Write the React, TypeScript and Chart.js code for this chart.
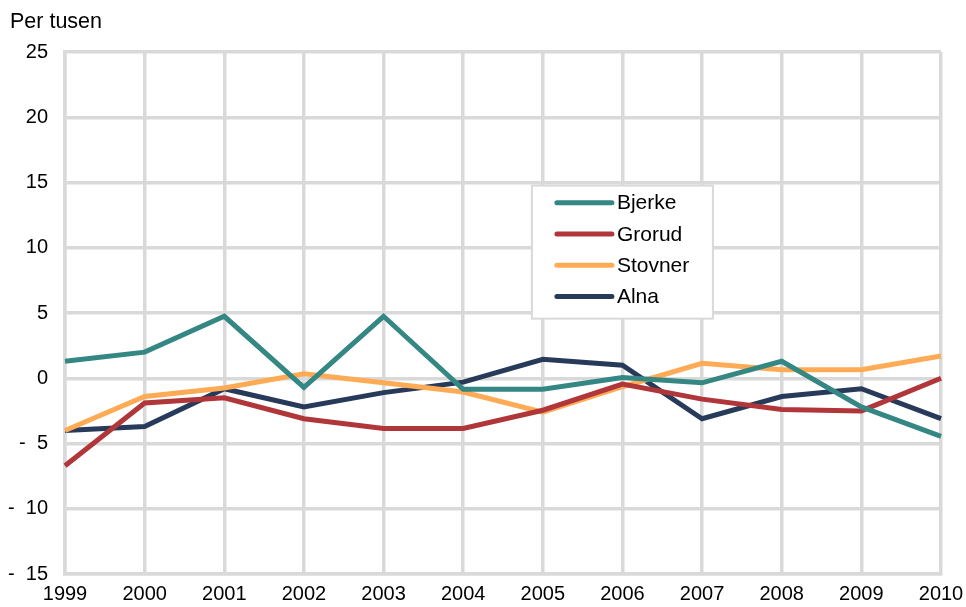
import React, { useEffect, useRef } from "react";
import { Chart, registerables } from "chart.js";

Chart.register(...registerables);

const years = ["1999", "2000", "2001", "2002", "2003", "2004", "2005", "2006", "2007", "2008", "2009", "2010"];
const bjerke = [1.3, 2.0, 4.75, -0.7, 4.75, -0.85, -0.85, 0.05, -0.35, 1.3, -2.2, -4.45];
const grorud = [-6.7, -1.9, -1.5, -3.1, -3.85, -3.85, -2.45, -0.45, -1.6, -2.4, -2.5, 0.0];
const stovner = [-4.0, -1.4, -0.75, 0.35, -0.35, -1.05, -2.6, -0.65, 1.15, 0.65, 0.65, 1.7];
const alna = [-4.0, -3.7, -0.8, -2.2, -1.1, -0.3, 1.45, 1.0, -3.1, -1.4, -0.8, -3.1];
const seriesNames = ["Bjerke", "Grorud", "Stovner", "Alna"];
const seriesColors = ["#358783", "#b0363a", "#ffaa55", "#283a5a"];
const yTitle = "Per tusen";

const FONT = "'Liberation Sans', Arial, sans-serif";
const FS = 20;

const legendPlugin = {
  id: "insideLegend",
  afterDraw(chart: any) {
    const { ctx, chartArea } = chart;
    const w = chartArea.right - chartArea.left;
    const h = chartArea.bottom - chartArea.top;
    const bx = chartArea.left + w * 0.533;
    const by = chartArea.top + h * 0.256;
    const bw = 181;
    const bh = 133;
    ctx.save();
    ctx.fillStyle = "#ffffff";
    ctx.fillRect(bx, by, bw, bh);
    ctx.strokeStyle = "#d9d9d9";
    ctx.lineWidth = 2;
    ctx.strokeRect(bx, by, bw, bh);
    ctx.font = `21px ${FONT}`;
    ctx.textBaseline = "middle";
    ctx.textAlign = "left";
    chart.data.datasets.forEach((ds: any, i: number) => {
      const cy = by + 17 + i * 31.3;
      ctx.strokeStyle = ds.borderColor;
      ctx.lineWidth = 5;
      ctx.lineCap = "round";
      ctx.beginPath();
      ctx.moveTo(bx + 25, cy);
      ctx.lineTo(bx + 80, cy);
      ctx.stroke();
      ctx.fillStyle = "#000000";
      ctx.fillText(ds.label, bx + 85, cy + 1);
    });
    ctx.restore();
  },
};

const titlePlugin = {
  id: "yTitleTop",
  afterDraw(chart: any) {
    const { ctx } = chart;
    ctx.save();
    ctx.font = `21.5px ${FONT}`;
    ctx.fillStyle = "#000000";
    ctx.textBaseline = "middle";
    ctx.textAlign = "left";
    ctx.fillText(yTitle, 10, 22);
    ctx.restore();
  },
};

export default function App() {
  const ref = useRef<HTMLCanvasElement | null>(null);
  useEffect(() => {
    document.body.style.margin = "0";
    const data = [bjerke, grorud, stovner, alna];
    const chart = new Chart(ref.current as HTMLCanvasElement, {
      type: "line",
      data: {
        labels: years,
        datasets: seriesNames.map((n, i) => ({
          label: n,
          data: data[i],
          borderColor: seriesColors[i],
          backgroundColor: seriesColors[i],
          borderWidth: 5,
          pointRadius: 0,
          tension: 0,
          fill: false,
        })),
      },
      options: {
        animation: false,
        responsive: false,
        maintainAspectRatio: false,
        layout: { padding: { top: 52, right: 25, left: 0, bottom: 0 } },
        plugins: {
          legend: { display: false },
          tooltip: { enabled: false },
        },
        scales: {
          x: {
            offset: false,
            grid: { color: "#d9d9d9", lineWidth: 3.5, drawTicks: false },
            border: { color: "#d9d9d9", width: 3.5 },
            afterFit(s: any) {
              s.height = 33;
              s.paddingRight = 0;
              s.paddingLeft = 0;
            },
            ticks: {
              color: "#000000",
              font: { family: FONT, size: FS },
              padding: 8,
              maxRotation: 0,
              autoSkip: false,
            },
          },
          y: {
            min: -15,
            max: 25,
            grid: { color: "#d9d9d9", lineWidth: 3.5, drawTicks: false },
            border: { color: "#d9d9d9", width: 3.5 },
            afterFit(s: any) {
              s.width = 65;
              s.paddingTop = 0;
              s.paddingBottom = 0;
            },
            ticks: {
              stepSize: 5,
              color: "#000000",
              font: { family: FONT, size: FS },
              padding: 17,
              callback: (v: any) => (Number(v) < 0 ? "-  " + Math.abs(Number(v)) : String(v)),
            },
          },
        },
      },
      plugins: [legendPlugin, titlePlugin],
    });
    return () => chart.destroy();
  }, []);
  return <canvas ref={ref} width={966} height={607} style={{ display: "block" }} />;
}
